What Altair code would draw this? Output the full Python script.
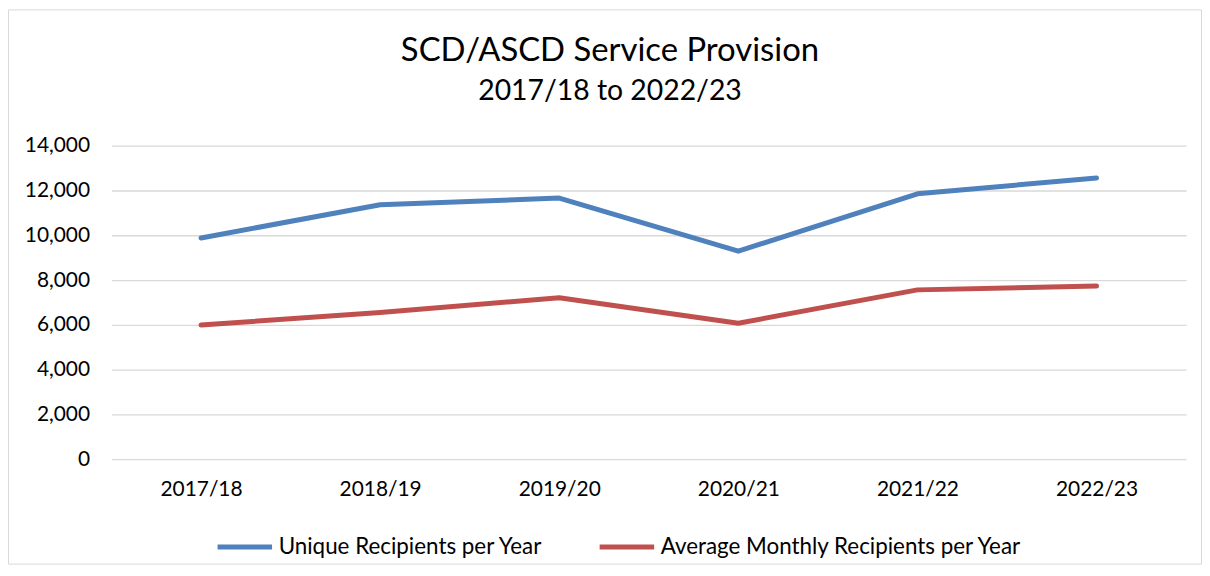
import altair as alt
import pandas as pd

years = ["2017/18", "2018/19", "2019/20", "2020/21", "2021/22", "2022/23"]
unique_recipients = [9880, 11360, 11660, 9290, 11850, 12560]
avg_monthly = [5990, 6550, 7210, 6070, 7560, 7730]
series_names = ["Unique Recipients per Year", "Average Monthly Recipients per Year"]
colors = ["#4F81BD", "#C0504D"]

rows = []
for y, v in zip(years, unique_recipients):
    rows.append({"Year": y, "Series": series_names[0], "Value": v})
for y, v in zip(years, avg_monthly):
    rows.append({"Year": y, "Series": series_names[1], "Value": v})
df = pd.DataFrame(rows)

FONT = "Lato"
W, H = 1080, 315
PL, PT, PR, PB = 104, 137, 16, 106

lines = alt.Chart(df).mark_line(strokeWidth=5, strokeCap="round", strokeJoin="round").encode(
    x=alt.X("Year:N", sort=years, title=None,
            scale=alt.Scale(paddingInner=0, paddingOuter=0.5),
            axis=alt.Axis(labelAngle=0, ticks=False, domain=False, grid=False,
                          labelFontSize=21, labelPadding=20, labelColor="#000000")),
    y=alt.Y("Value:Q", title=None,
            scale=alt.Scale(domain=[0, 14000]),
            axis=alt.Axis(values=list(range(0, 14001, 2000)), format=",.0f", ticks=False, domain=False,
                          gridColor="#D9D9D9", gridWidth=1.3,
                          labelFontSize=21, labelPadding=22, labelColor="#000000")),
    color=alt.Color("Series:N", sort=series_names,
                    scale=alt.Scale(domain=series_names, range=colors),
                    legend=alt.Legend(title=None, orient="none", direction="horizontal",
                                      legendX=104, legendY=373,
                                      symbolType="stroke", symbolStrokeWidth=5, symbolSize=3000,
                                      labelFontSize=22.5, labelOffset=4, columnPadding=46,
                                      labelColor="#000000", labelLimit=600)),
)

border = alt.Chart(alt.Data(values=[{"a": 1}])).mark_rect(
    fill=None, stroke="#D9D9D9", strokeWidth=1
).encode(
    x=alt.value(-PL + 0.5), x2=alt.value(W + PR - 0.5),
    y=alt.value(-PT + 0.5), y2=alt.value(H + PB - 0.5),
)

chart = alt.layer(border, lines).properties(
    width=W, height=H,
    padding={"left": PL, "top": PT, "right": PR, "bottom": PB},
    autosize=alt.AutoSizeParams(type="none"),
    title=alt.TitleParams(
        text="SCD/ASCD Service Provision",
        subtitle="2017/18 to 2022/23",
        anchor="middle", frame="group", dx=-39, offset=-97,
        font=FONT, fontSize=33, fontWeight="normal", color="#000000",
        subtitleFont=FONT, subtitleFontSize=28.5, subtitleColor="#000000", subtitlePadding=10,
    ),
).configure(font=FONT).configure_view(stroke=None).configure_axis(labelFont=FONT).configure_legend(labelFont=FONT)

chart.save("out.html", embed_options={"renderer": "svg", "actions": False})
